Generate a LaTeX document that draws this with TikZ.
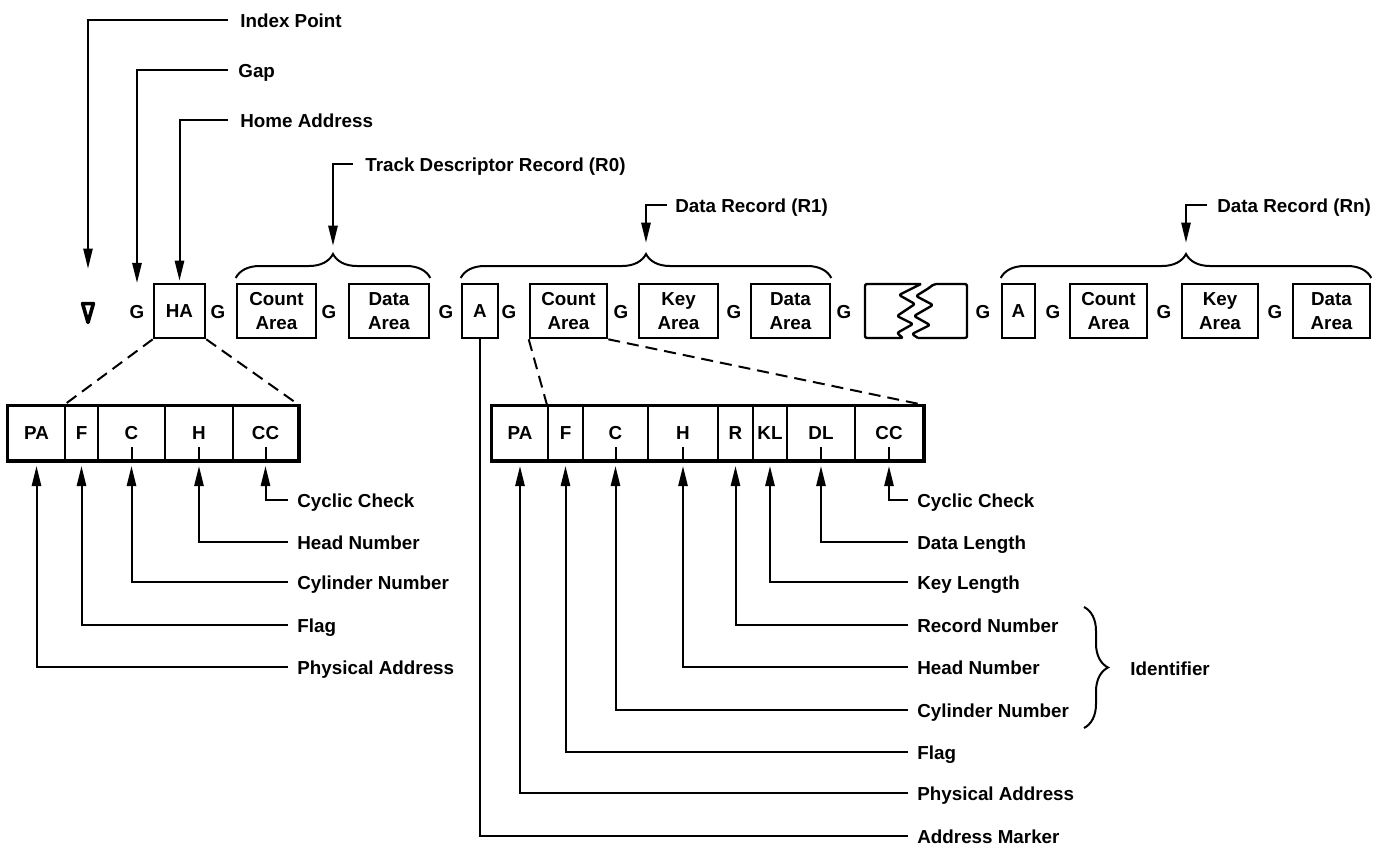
\documentclass[tikz,border=0pt]{standalone}
\usepackage{fontspec}
\setmainfont{Liberation Sans}
\usetikzlibrary{arrows.meta,decorations.pathreplacing,calc}
\newcommand\ff{\fontsize{9.4}{12}\selectfont\bfseries}
\begin{document}
\begin{tikzpicture}[x=0.5pt,y=-0.5pt,
  every node/.style={font=\ff},
  box/.style={draw, line width=1.3pt, inner sep=0pt, align=center, minimum height=27pt},
  fld/.style={draw, line width=1pt, inner sep=0pt, minimum height=27pt},
  gapg/.style={inner sep=0pt},
  lbl/.style={anchor=west, inner sep=0pt, text height=8pt, text depth=1pt},
  lead/.style={line width=1pt},
  arr/.style={lead, -{Triangle[length=10pt,width=4.6pt]}},
  dashline/.style={line width=1pt, dash pattern=on 6pt off 3.5pt},
  brc/.style={line width=1pt, decorate, decoration={brace, amplitude=12pt}}]
\useasboundingbox (0,0) rectangle (1386,851);

% ---------- top row ----------
\node[inner sep=0pt, minimum width=5pt, minimum height=9pt] (idx) at (88,313) {};
\draw[line width=1.8pt, line join=round] (idx.north west) -- (idx.north east) -- (idx.south) -- cycle;

\node[gapg] (g1) at (137,312) {G};
\node[box, minimum width=25.5pt] (ha) at (179.5,311) {HA};
\node[gapg] (g2) at (218,312) {G};
\node[box, minimum width=39.5pt] (ca0) at (276.5,311) {Count\\Area};
\node[gapg] (g3) at (329,312) {G};
\node[box, minimum width=40pt] (da0) at (389,311) {Data\\Area};
\node[gapg] (g4) at (446,312) {G};
\node[box, minimum width=18pt] (a1) at (480,311) {A};
\node[gapg] (g5) at (509,312) {G};
\node[box, minimum width=38.5pt] (ca1) at (568.5,311) {Count\\Area};
\node[gapg] (g6) at (621,312) {G};
\node[box, minimum width=39.5pt] (ka1) at (678.5,311) {Key\\Area};
\node[gapg] (g7) at (734,312) {G};
\node[box, minimum width=39.5pt] (da1) at (790.5,311) {Data\\Area};
\node[gapg] (g8) at (844,312) {G};
% broken section
\draw[line width=1.2pt, line join=round, rounded corners=1pt] (921,284) -- (865,284) -- (865,338) -- (903,338)
  -- (897,333) -- (913,324) -- (897,316) -- (915,304) -- (899,295) -- (921,284);
\draw[line width=1.2pt, line join=round, rounded corners=1pt] (918,338) -- (967,338) -- (967,284) -- (934,284)
  -- (929,288) -- (916,296) -- (933,305) -- (914,316) -- (930,325) -- (912,334) -- (918,338);
\node[gapg] (g9) at (983,312) {G};
\node[box, minimum width=16.5pt] (an) at (1018.5,311) {A};
\node[gapg] (g10) at (1053,312) {G};
\node[box, minimum width=38.5pt] (can) at (1108.5,311) {Count\\Area};
\node[gapg] (g11) at (1164,312) {G};
\node[box, minimum width=38pt] (kan) at (1220,311) {Key\\Area};
\node[gapg] (g12) at (1275,312) {G};
\node[box, minimum width=38.5pt] (dan) at (1331.5,311) {Data\\Area};

% braces
\draw[brc] (ca0.north west |- 0,278) -- (da0.north east |- 0,278);
\draw[brc] (a1.north west |- 0,278) -- (da1.north east |- 0,278);
\draw[brc] (an.north west |- 0,278) -- (dan.north east |- 0,278);
\coordinate (b0) at ($(ca0.north west)!0.5!(da0.north east) + (0,-30)$);
\coordinate (b1) at ($(a1.north west)!0.5!(da1.north east) + (0,-30)$);
\coordinate (b2) at ($(an.north west)!0.5!(dan.north east) + (0,-30)$);

% top labels
\node[lbl] (tIdx) at (240,20) {Index Point};
\node[lbl] (tGap) at (238,70) {Gap};
\node[lbl] (tHA) at (240,120) {Home Address};
\node[lbl] (tR0) at (365,164) {Track Descriptor Record (R0)};
\node[lbl] (tR1) at (675,205) {Data Record (R1)};
\node[lbl] (tRn) at (1217,205) {Data Record (Rn)};

\draw[arr, shorten <=6pt, shorten >=17.5pt] (tIdx.west) -| (idx.north);
\draw[arr, shorten <=5pt, shorten >=11pt] (tGap.west) -| (g1.north);
\draw[arr, shorten <=6pt, shorten >=1pt] (tHA.west) -| (ha.north);
\draw[arr, shorten <=6pt, shorten >=3.5pt] (tR0.west) -| (b0);
\draw[arr, shorten <=4pt, shorten >=5pt] (tR1.west) -| (b1);
\draw[arr, shorten <=5pt, shorten >=5pt] (tRn.west) -| (b2);

% ---------- left field box (home address) ----------
\node[fld, minimum width=28.5pt] (lpa) at (36.5,433) {PA};
\node[fld, minimum width=16.5pt] (lf) at (81.5,433) {F};
\node[fld, minimum width=33.5pt] (lc) at (131.5,433) {C};
\node[fld, minimum width=34pt] (lh) at (199,433) {H};
\node[fld, minimum width=32.5pt] (lcc) at (265.5,433) {CC};
\draw[line width=1.5pt] (lpa.north west) rectangle (lcc.south east);
\foreach \n in {lc,lh,lcc} \draw[lead] (\n.south) -- ++(0,-14);

\draw[dashline] (ha.south west) -- (lf.north west);
\draw[dashline] (ha.south east) -- (lcc.north east);

\node[lbl] (lt1) at (297,500) {Cyclic Check};
\node[lbl] (lt2) at (297,542) {Head Number};
\node[lbl] (lt3) at (297,582) {Cylinder Number};
\node[lbl] (lt4) at (297,625) {Flag};
\node[lbl] (lt5) at (297,667) {Physical Address};
\draw[arr, shorten <=4.5pt, shorten >=2.5pt] (lt1.west) -| (lcc.south);
\draw[arr, shorten <=4.5pt, shorten >=2.5pt] (lt2.west) -| (lh.south);
\draw[arr, shorten <=4.5pt, shorten >=2.5pt] (lt3.west) -| (lc.south);
\draw[arr, shorten <=4.5pt, shorten >=2.5pt] (lt4.west) -| (lf.south);
\draw[arr, shorten <=4.5pt, shorten >=2.5pt] (lt5.west) -| (lpa.south);

% ---------- right field box (count area) ----------
\node[fld, minimum width=28pt] (rpa) at (520,433) {PA};
\node[fld, minimum width=17.5pt] (rf) at (565.5,433) {F};
\node[fld, minimum width=32.5pt] (rc) at (615.5,433) {C};
\node[fld, minimum width=35pt] (rh) at (683,433) {H};
\node[fld, minimum width=17.5pt] (rr) at (735.5,433) {R};
\node[fld, minimum width=17pt] (rkl) at (770,433) {KL};
\node[fld, minimum width=34pt] (rdl) at (821,433) {DL};
\node[fld, minimum width=34pt] (rcc) at (889,433) {CC};
\draw[line width=1.5pt] (rpa.north west) rectangle (rcc.south east);
\foreach \n in {rc,rh,rdl,rcc} \draw[lead] (\n.south) -- ++(0,-14);

\draw[dashline] (ca1.south west) -- (rf.north west);
\draw[dashline] (ca1.south east) -- (rcc.north east);

\node[lbl] (rt1) at (917,500) {Cyclic Check};
\node[lbl] (rt2) at (917,542) {Data Length};
\node[lbl] (rt3) at (917,582) {Key Length};
\node[lbl] (rt4) at (917,625) {Record Number};
\node[lbl] (rt5) at (917,667) {Head Number};
\node[lbl] (rt6) at (917,710) {Cylinder Number};
\node[lbl] (rt7) at (917,752) {Flag};
\node[lbl] (rt8) at (917,793) {Physical Address};
\node[lbl] (rt9) at (917,836) {Address Marker};
\draw[arr, shorten <=4.5pt, shorten >=2.5pt] (rt1.west) -| (rcc.south);
\draw[arr, shorten <=4.5pt, shorten >=2.5pt] (rt2.west) -| (rdl.south);
\draw[arr, shorten <=4.5pt, shorten >=2.5pt] (rt3.west) -| (rkl.south);
\draw[arr, shorten <=4.5pt, shorten >=2.5pt] (rt4.west) -| (rr.south);
\draw[arr, shorten <=4.5pt, shorten >=2.5pt] (rt5.west) -| (rh.south);
\draw[arr, shorten <=4.5pt, shorten >=2.5pt] (rt6.west) -| (rc.south);
\draw[arr, shorten <=4.5pt, shorten >=2.5pt] (rt7.west) -| (rf.south);
\draw[arr, shorten <=4.5pt, shorten >=2.5pt] (rt8.west) -| (rpa.south);
\draw[lead, shorten <=4.5pt] (rt9.west) -| (a1.south);

% identifier brace
\draw[brc] (1084,607) -- (1084,728);
\node[lbl] (ident) at (1130,668) {Identifier};
\end{tikzpicture}
\end{document}
